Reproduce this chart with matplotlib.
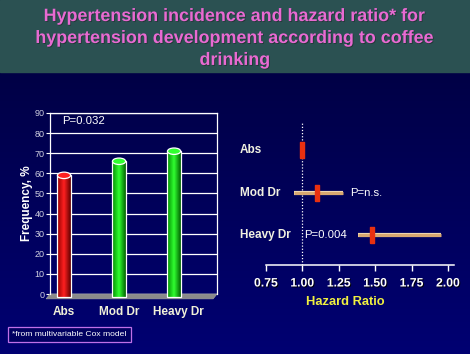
import matplotlib
matplotlib.use("Agg")
import matplotlib.pyplot as plt
import numpy as np
from matplotlib.patches import Ellipse, Polygon, Rectangle
import matplotlib.patheffects as pe

# ---- data ----
title = "Hypertension incidence and hazard ratio* for\nhypertension development according to coffee\ndrinking"
bar_categories = ["Abs", "Mod Dr", "Heavy Dr"]
bar_values = [59, 66, 71]
bar_colors = ["red", "green", "green"]
bar_yticks = [0, 10, 20, 30, 40, 50, 60, 70, 80, 90]
bar_pvalue = "P=0.032"

hr_groups = ["Abs", "Mod Dr", "Heavy Dr"]
hr_point = [1.00, 1.10, 1.48]
hr_low = [1.00, 0.94, 1.38]
hr_high = [1.00, 1.28, 1.95]
hr_ptext = ["", "P=n.s.", "P=0.004"]
hr_xticks = [0.75, 1.00, 1.25, 1.50, 1.75, 2.00]
footnote = "*from multivariable Cox model"

plt.rcParams['font.family'] = ['Liberation Sans', 'DejaVu Sans']

W, H = 470, 354
fig = plt.figure(figsize=(W / 100, H / 100), dpi=100)

# background
bg = fig.add_axes([0, 0, 1, 1], zorder=-10)
bg.set_axis_off()
grad = np.linspace(0, 1, 256).reshape(-1, 1)
c_top = np.array([0x00, 0x00, 0x3a]) / 255
c_bot = np.array([0x00, 0x00, 0x72]) / 255
img = c_top[None, None, :] * (1 - grad[:, :, None]) + c_bot[None, None, :] * grad[:, :, None]
bg.imshow(img, extent=[0, 1, 0, 1], aspect='auto', origin='upper')
bg.add_patch(Rectangle((0, 1 - 72 / H), 1, 72 / H, color='#2b5152', transform=bg.transAxes))
bg.set_xlim(0, 1)
bg.set_ylim(0, 1)

fig.text(0.5, 1 - 38.5 / H, title, ha='center', va='center', color='#e86ad2',
         fontsize=12.9, fontweight='bold', linespacing=1.38,
         path_effects=[pe.withSimplePatchShadow(offset=(0.6, -0.6), shadow_rgbFace='#203030', alpha=0.8)])

# ---- bar chart ----
L, R, T, B = 50, 217, 113, 294
ax = fig.add_axes([L / W, 1 - B / H, (R - L) / W, (B - T) / H])
ax.set_facecolor('none')
ax.set_ylim(0, 90)
xlim = (-0.255, 2.78)
ax.set_xlim(*xlim)
ax.set_yticks(bar_yticks)
ax.set_yticklabels([str(v) for v in bar_yticks], color='#d0d0e0', fontsize=6.5,
                   family=['Liberation Sans Narrow', 'Liberation Sans'])
ax.tick_params(axis='y', length=3, color='white', width=0.8, pad=1)
ax.set_xticks([])
for s in ax.spines.values():
    s.set_color('white')
    s.set_linewidth(0.9)
ax.spines['bottom'].set_visible(False)
ax.yaxis.grid(True, color='white', linewidth=0.9)
ax.set_axisbelow(True)

# floor
floor = Polygon([(xlim[0] - 0.07, -2.4), (xlim[1] - 0.07, -2.4), (xlim[1], 0), (xlim[0], 0)],
                closed=True, facecolor='#8a8a8a', edgecolor='#a0a0a0', lw=0.5, clip_on=False, zorder=1)
ax.add_patch(floor)

bw = 0.24
cmaps = {"red": ['#600000', '#ff2020', '#900000'], "green": ['#006000', '#30ff30', '#008800']}
for i, (v, c) in enumerate(zip(bar_values, bar_colors)):
    cm = matplotlib.colors.LinearSegmentedColormap.from_list('c', [cmaps[c][2], cmaps[c][1], cmaps[c][0]])
    rect = Rectangle((i - bw / 2, -1.5), bw, v + 1.5, facecolor='none', edgecolor='white', lw=0.9, zorder=3, clip_on=False)
    ax.add_patch(rect)
    g = np.linspace(0, 1, 64).reshape(1, -1)
    im = ax.imshow(g, extent=[i - bw / 2, i + bw / 2, -1.5, v], aspect='auto', cmap=cm, zorder=2.5, clip_on=False)
    im.set_clip_path(rect)
    ax.add_patch(Ellipse((i, v), bw, 3.2, facecolor=cmaps[c][1], edgecolor='white', lw=0.9, zorder=4, clip_on=False))
    ax.text(i + (0.07 if i == 2 else 0), -6.2, bar_categories[i], ha='center', va='top', color='#f0f0d8',
            fontsize=8.5, fontweight='bold')
ax.set_xlim(*xlim)
ax.set_ylim(0, 90)
ax.text(0.36, 86, bar_pvalue, color='white', fontsize=8.2, va='center', ha='center')
ax.set_ylabel("Frequency, %", color='white', fontsize=8.5, fontweight='bold')
ax.yaxis.set_label_coords(-17 / (R - L), 0.5)

# ---- forest plot ----
fL, fR, fB = 266, 454, 265
fx = fig.add_axes([fL / W, 1 - fB / H, (fR - fL) / W, (fB - 122) / H])
fx.set_facecolor('none')
fx.set_xlim(0.75, 2.0 + 0.25 * 6 / 36.5)
ypos = [3, 2, 1]
fx.set_ylim(1 - 30 / 42.5, 1 + 113 / 42.5)
fx.axvline(1.0, color='white', ls=(0, (1, 1.5)), lw=0.9, zorder=1)
for s in ['top', 'right', 'left']:
    fx.spines[s].set_visible(False)
fx.spines['bottom'].set_color('white')
fx.spines['bottom'].set_linewidth(1.1)
fx.set_yticks([])
fx.set_xticks(hr_xticks)
fx.set_xticklabels([f"{t:.2f}" for t in hr_xticks], color='white', fontsize=8.8, fontweight='bold')
for lab in fx.get_xticklabels():
    lab.set_path_effects([pe.withSimplePatchShadow(offset=(0.7, -0.7), shadow_rgbFace='black', alpha=0.9)])
fx.tick_params(axis='x', length=4, width=1, color='white', pad=5)
fx.set_xlabel("Hazard Ratio", color='#f0f040', fontsize=9.3, fontweight='bold')
fx.xaxis.set_label_coords((345 - fL) / (fR - fL), -31 / (fB - 122))

rect_marker = [(-0.3, -1), (0.3, -1), (0.3, 1), (-0.3, 1), (-0.3, -1)]
for y, p, lo, hi, pt, g in zip(ypos, hr_point, hr_low, hr_high, hr_ptext, hr_groups):
    if hi > lo:
        fx.plot([lo, hi], [y, y], color='#d8a870', lw=2.2, solid_capstyle='butt', zorder=2,
                path_effects=[pe.Stroke(linewidth=3.0, foreground='#f0d8b0'), pe.Normal()])
    fx.plot([p], [y], marker=rect_marker, markersize=11, color='#e83010', mec='#e83010', zorder=3, ls='none')
    fx.text(240, y, g, transform=matplotlib.transforms.blended_transform_factory(
        matplotlib.transforms.IdentityTransform(), fx.transData),
        color='#f0f0e0', fontsize=8.5, fontweight='bold', va='center', ha='left')
fx.text(1.28 + 0.05, ypos[1], hr_ptext[1], color='white', fontsize=8.2, va='center', ha='left')
fx.text(1.015, ypos[2], hr_ptext[2], color='white', fontsize=8.2, va='center', ha='left')

fig.text(12 / W, 1 - 334.5 / H, footnote, color='white', fontsize=6.1, va='center', ha='left',
         bbox=dict(boxstyle='square,pad=0.5', facecolor='#000060', edgecolor='#c070e8', lw=0.9))

fig.savefig("out.png", dpi=100)
